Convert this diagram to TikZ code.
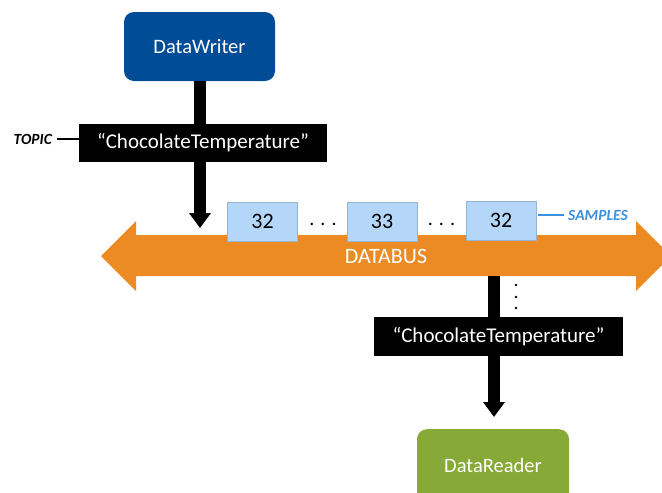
\documentclass[tikz,border=0pt]{standalone}
\usepackage{fontspec}
\setmainfont{Carlito}
\usetikzlibrary{arrows.meta}
\definecolor{dwblue}{RGB}{0,76,151}
\definecolor{busorange}{RGB}{236,139,35}
\definecolor{samplefill}{RGB}{180,215,249}
\definecolor{sampleedge}{RGB}{150,180,210}
\definecolor{drgreen}{RGB}{134,169,56}
\definecolor{labelblue}{RGB}{61,143,224}
\tikzset{
  endpoint/.style={rounded corners=10pt, text=white, font=\fontsize{20.5}{24}\selectfont, inner sep=0pt},
  topicbox/.style={fill=black, text=white, font=\fontsize{21}{24}\selectfont, inner sep=0pt, minimum width=248pt, minimum height=38pt},
  samplebox/.style={fill=samplefill, draw=sampleedge, line width=0.6pt, font=\fontsize{22}{24}\selectfont, inner sep=0pt, minimum width=70pt, minimum height=39pt},
  flow/.style={line width=12pt, -{Triangle[width=21pt,length=15pt]}},
  tag/.style={font=\bfseries\itshape\fontsize{15.5}{17}\selectfont, inner sep=0pt},
  dotsl/.style={font=\fontsize{20}{22}\selectfont, inner sep=0pt}
}
\begin{document}
\begin{tikzpicture}[x=1pt,y=-1pt]
\useasboundingbox (0,0) rectangle (662,493);
\clip (0,0) rectangle (662,493);
% DataWriter
\node[endpoint, fill=dwblue, minimum width=151pt, minimum height=69pt] (dw) at (199.5,46.5) {DataWriter};
\coordinate (t1) at (200,228);
\draw[flow] (dw.south -| t1) -- (t1);
\node[topicbox] (tp1) at (203,142.5) {``ChocolateTemperature''};
\node[tag, anchor=east] (topic) at (52,139) {TOPIC};
\draw[line width=2pt] (topic.east) ++(5,0) coordinate (tl) -- (tl -| tp1.west);
% Databus
\path[fill=busorange] (101,256) -- (136,221) -- (136,235) -- (636,235) -- (636,221) -- (671,256)
  -- (636,291) -- (636,276) -- (136,276) -- (136,291) -- cycle;
\node[text=white, font=\fontsize{22}{24}\selectfont, inner sep=0pt] (bus) at (386,256) {DATABUS};
% Samples
\node[samplebox] (s1) at (262.5,221.5) {32};
\node[samplebox] (s2) at (382,221.5) {33};
\node[samplebox] (s3) at (501,220.5) {32};
\node[dotsl] (d1) at (323,224) {. . .};
\node[dotsl] (d2) at (441.5,224) {. . .};
\node[tag, text=labelblue, anchor=west] (samples) at (568,215) {SAMPLES};
\draw[labelblue, line width=2.5pt] (s3.east |- samples) ++(2,0) coordinate (sl) -- ([xshift=-4pt]samples.west);
% Down path
\coordinate (b1) at (494,276);
\coordinate (t2) at (494,417);
\draw[flow] (b1) -- (t2);
\fill (516,285) circle (1.3pt);
\fill (516,297) circle (1.3pt);
\fill (516,308) circle (1.3pt);
\node[topicbox, minimum width=249pt, minimum height=39pt] (tp2) at (498.5,336.5) {``ChocolateTemperature''};
% DataReader
\node[endpoint, fill=drgreen, minimum width=152pt, minimum height=80pt, anchor=north] (dr) at (493,429) {};
\node[text=white, font=\fontsize{20.5}{24}\selectfont, inner sep=0pt] (drl) at (493,465) {DataReader};
\end{tikzpicture}
\end{document}
